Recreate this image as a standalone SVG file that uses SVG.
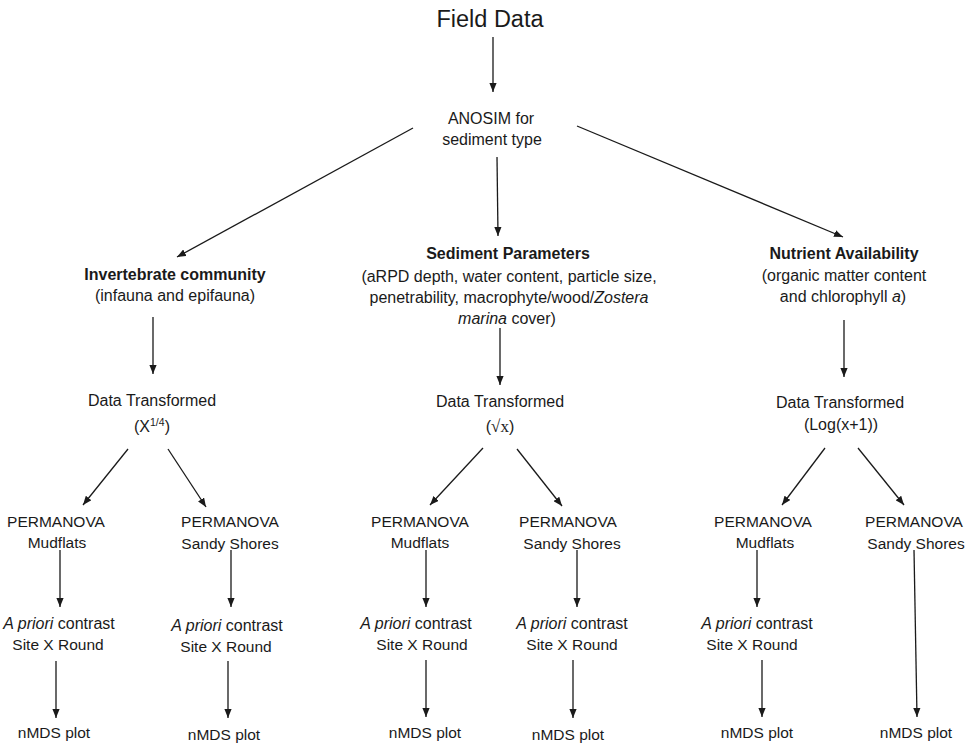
<svg xmlns="http://www.w3.org/2000/svg" width="965" height="744" viewBox="0 0 965 744">
<style>
text{font-family:"Liberation Sans",Arial,sans-serif;font-size:16px;fill:#1a1a1a;text-anchor:middle}
.t{font-size:23.5px}
.b{font-weight:bold}
.i{font-style:italic}
.m{font-size:15.5px}
.c line{stroke:#1a1a1a;stroke-width:1.3;marker-end:url(#ah)}
</style>
<defs>
<marker id="ah" viewBox="0 0 10 8" refX="10" refY="4" markerWidth="9" markerHeight="7.4" markerUnits="userSpaceOnUse" orient="auto">
<path d="M0,0 L10,4 L0,8 z" fill="#1a1a1a"/>
</marker>
</defs>
<rect width="965" height="744" fill="#fff"/>
<g class="c" id="connectors">
<line x1="493" y1="37" x2="493" y2="92"/>
<line x1="413" y1="128" x2="177" y2="257"/>
<line x1="497" y1="157" x2="498" y2="236"/>
<line x1="577" y1="126" x2="843" y2="237"/>
<line x1="153" y1="317" x2="153" y2="374"/>
<line x1="500" y1="328" x2="500" y2="385"/>
<line x1="844" y1="320" x2="844" y2="377"/>
<line x1="128" y1="449" x2="83" y2="505"/>
<line x1="168" y1="449" x2="206" y2="507"/>
<line x1="483" y1="448" x2="430" y2="505"/>
<line x1="517" y1="449" x2="562" y2="506"/>
<line x1="825" y1="448" x2="782" y2="505"/>
<line x1="858" y1="448" x2="904" y2="505"/>
<line x1="60" y1="550" x2="60" y2="607"/>
<line x1="231" y1="550" x2="231" y2="607"/>
<line x1="426" y1="550" x2="426" y2="607"/>
<line x1="577" y1="550" x2="577" y2="607"/>
<line x1="757" y1="550" x2="757" y2="607"/>
<line x1="914" y1="550" x2="917" y2="717"/>
<line x1="56" y1="661" x2="56" y2="718"/>
<line x1="228" y1="661" x2="228" y2="718"/>
<line x1="426" y1="660" x2="426" y2="717"/>
<line x1="573" y1="660" x2="573" y2="718"/>
<line x1="762" y1="660" x2="762" y2="717"/>
</g>
<g id="field-data"><text class="t" x="490" y="27">Field Data</text></g>
<g id="anosim"><text x="491" y="124">ANOSIM for</text><text x="492" y="145">sediment type</text></g>
<g id="invertebrate"><text class="b" x="175" y="280">Invertebrate community</text><text x="175" y="301">(infauna and epifauna)</text></g>
<g id="sediment"><text class="b" x="508" y="259">Sediment Parameters</text><text x="509" y="282">(aRPD depth, water content, particle size,</text><text x="509" y="303">penetrability, macrophyte/wood/<tspan class="i">Zostera</tspan></text><text x="507" y="324"><tspan class="i">marina</tspan> cover)</text></g>
<g id="nutrient"><text class="b" x="844" y="259">Nutrient Availability</text><text x="844" y="281">(organic matter content</text><text x="843" y="302">and chlorophyll <tspan class="i">a</tspan>)</text></g>
<g id="dt1"><text x="152" y="406">Data Transformed</text><text x="152" y="432">(X<tspan font-size="10.5" dy="-6">1/4</tspan><tspan dy="6">)</tspan></text></g>
<g id="dt2"><text x="500" y="407">Data Transformed</text><text x="500" y="432">(<tspan font-family="Liberation Serif" font-size="17">√x</tspan>)</text></g>
<g id="dt3"><text x="840" y="408">Data Transformed</text><text x="841" y="430">(Log(x+1))</text></g>
<g id="p1"><text class="m" x="56" y="527">PERMANOVA</text><text class="m" x="57" y="548">Mudflats</text></g>
<g id="p2"><text class="m" x="230" y="527">PERMANOVA</text><text class="m" x="230" y="549">Sandy Shores</text></g>
<g id="p3"><text class="m" x="420" y="527">PERMANOVA</text><text class="m" x="420" y="548">Mudflats</text></g>
<g id="p4"><text class="m" x="568" y="527">PERMANOVA</text><text class="m" x="572" y="549">Sandy Shores</text></g>
<g id="p5"><text class="m" x="763" y="527">PERMANOVA</text><text class="m" x="765" y="548">Mudflats</text></g>
<g id="p6"><text class="m" x="914" y="527">PERMANOVA</text><text class="m" x="916" y="549">Sandy Shores</text></g>
<g id="a1"><text x="59" y="629"><tspan class="i">A priori</tspan> contrast</text><text class="m" x="58" y="650">Site X Round</text></g>
<g id="a2"><text x="227" y="631"><tspan class="i">A priori</tspan> contrast</text><text class="m" x="226" y="652">Site X Round</text></g>
<g id="a3"><text x="416" y="629"><tspan class="i">A priori</tspan> contrast</text><text class="m" x="422" y="650">Site X Round</text></g>
<g id="a4"><text x="572" y="629"><tspan class="i">A priori</tspan> contrast</text><text class="m" x="572" y="650">Site X Round</text></g>
<g id="a5"><text x="757" y="629"><tspan class="i">A priori</tspan> contrast</text><text class="m" x="752" y="650">Site X Round</text></g>
<g id="n1"><text class="m" x="54" y="738">nMDS plot</text></g>
<g id="n2"><text class="m" x="224" y="740">nMDS plot</text></g>
<g id="n3"><text class="m" x="425" y="738">nMDS plot</text></g>
<g id="n4"><text class="m" x="568" y="740">nMDS plot</text></g>
<g id="n5"><text class="m" x="757" y="738">nMDS plot</text></g>
<g id="n6"><text class="m" x="916" y="738">nMDS plot</text></g>
</svg>
